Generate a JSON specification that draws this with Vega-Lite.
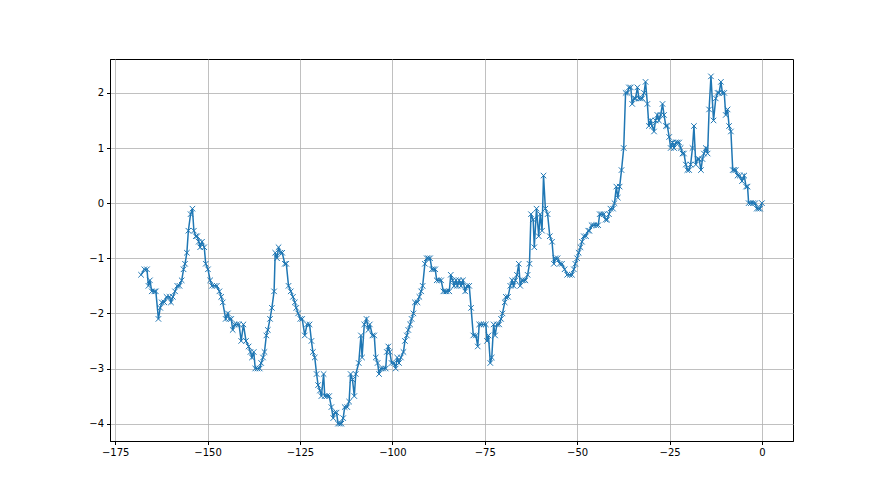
{
  "$schema": "https://vega.github.io/schema/vega-lite/v6.json",
  "width": 683,
  "height": 382,
  "autosize": {"type": "none"},
  "padding": {"left": 110, "top": 59, "right": 87, "bottom": 54},
  "background": "white",
  "config": {
    "view": {"stroke": "black", "strokeWidth": 1},
    "axis": {
      "labelFont": "DejaVu Sans",
      "labelFontSize": 10,
      "labelColor": "black",
      "domainColor": "black",
      "tickColor": "black",
      "tickSize": 3.5,
      "labelPadding": 3,
      "gridColor": "#b0b0b0",
      "gridWidth": 0.8,
      "title": null
    }
  },
  "data": {"values": [
    {"x":-168,"y":-1.3},{"x":-167.1,"y":-1.2},{"x":-166.4,"y":-1.2},{"x":-166,"y":-1.5},{"x":-165.6,"y":-1.4},{"x":-165.1,"y":-1.6},{"x":-164.4,"y":-1.6},{"x":-164,"y":-1.6},{"x":-163.3,"y":-2.1},{"x":-162.8,"y":-1.9},{"x":-162.4,"y":-1.8},{"x":-161.7,"y":-1.8},{"x":-161.1,"y":-1.7},{"x":-160.3,"y":-1.7},{"x":-159.9,"y":-1.8},{"x":-159.4,"y":-1.7},{"x":-158.8,"y":-1.6},{"x":-158.2,"y":-1.5},{"x":-157.6,"y":-1.5},{"x":-157,"y":-1.4},{"x":-156.5,"y":-1.2},{"x":-156.1,"y":-1.1},{"x":-155.6,"y":-0.9},{"x":-155.2,"y":-0.5},{"x":-154.6,"y":-0.2},{"x":-154.1,"y":-0.1},{"x":-153.7,"y":-0.5},{"x":-153.2,"y":-0.6},{"x":-152.8,"y":-0.6},{"x":-152.4,"y":-0.7},{"x":-152,"y":-0.8},{"x":-151.5,"y":-0.7},{"x":-150.9,"y":-0.8},{"x":-150.5,"y":-1.1},{"x":-149.9,"y":-1.2},{"x":-149.3,"y":-1.4},{"x":-148.8,"y":-1.5},{"x":-148.1,"y":-1.5},{"x":-147.5,"y":-1.5},{"x":-146.8,"y":-1.6},{"x":-146.3,"y":-1.7},{"x":-145.9,"y":-1.8},{"x":-145.1,"y":-2.1},{"x":-144.5,"y":-2.0},{"x":-144.1,"y":-2.1},{"x":-143.6,"y":-2.1},{"x":-143.2,"y":-2.3},{"x":-142.7,"y":-2.2},{"x":-142.1,"y":-2.2},{"x":-141.5,"y":-2.2},{"x":-140.9,"y":-2.5},{"x":-140.3,"y":-2.2},{"x":-139.6,"y":-2.5},{"x":-138.9,"y":-2.6},{"x":-138.4,"y":-2.7},{"x":-138,"y":-2.8},{"x":-137.5,"y":-2.7},{"x":-137.1,"y":-3.0},{"x":-136.5,"y":-3.0},{"x":-135.9,"y":-3.0},{"x":-135.5,"y":-2.9},{"x":-135,"y":-2.8},{"x":-134.6,"y":-2.7},{"x":-134.1,"y":-2.4},{"x":-133.7,"y":-2.3},{"x":-133.1,"y":-2.1},{"x":-132.6,"y":-1.9},{"x":-132,"y":-1.6},{"x":-131.7,"y":-0.9},{"x":-131.2,"y":-1.0},{"x":-130.8,"y":-0.8},{"x":-130.3,"y":-0.9},{"x":-129.8,"y":-0.9},{"x":-129.1,"y":-1.1},{"x":-128.7,"y":-1.1},{"x":-128.1,"y":-1.5},{"x":-127.5,"y":-1.6},{"x":-126.9,"y":-1.7},{"x":-126.4,"y":-1.8},{"x":-126,"y":-1.9},{"x":-125.5,"y":-2.0},{"x":-124.9,"y":-2.1},{"x":-124.4,"y":-2.1},{"x":-123.7,"y":-2.4},{"x":-123.1,"y":-2.2},{"x":-122.4,"y":-2.2},{"x":-121.9,"y":-2.5},{"x":-121.5,"y":-2.7},{"x":-121,"y":-2.8},{"x":-120.5,"y":-3.1},{"x":-120.1,"y":-3.3},{"x":-119.6,"y":-3.4},{"x":-119.2,"y":-3.5},{"x":-118.6,"y":-3.1},{"x":-118.3,"y":-3.5},{"x":-117.7,"y":-3.5},{"x":-117.1,"y":-3.5},{"x":-116.5,"y":-3.7},{"x":-116,"y":-3.9},{"x":-115.6,"y":-3.8},{"x":-115.1,"y":-3.8},{"x":-114.7,"y":-4.0},{"x":-114.2,"y":-4.0},{"x":-113.8,"y":-4.0},{"x":-113.3,"y":-3.9},{"x":-112.9,"y":-3.7},{"x":-112.2,"y":-3.7},{"x":-111.7,"y":-3.6},{"x":-111.3,"y":-3.1},{"x":-110.8,"y":-3.2},{"x":-110.3,"y":-3.5},{"x":-109.9,"y":-3.1},{"x":-109.1,"y":-2.9},{"x":-108.5,"y":-2.4},{"x":-108.2,"y":-2.8},{"x":-107.6,"y":-2.2},{"x":-107,"y":-2.1},{"x":-106.5,"y":-2.3},{"x":-106.1,"y":-2.2},{"x":-105.4,"y":-2.4},{"x":-104.9,"y":-2.4},{"x":-104.5,"y":-2.8},{"x":-104,"y":-2.9},{"x":-103.6,"y":-3.1},{"x":-103.1,"y":-3.0},{"x":-102.5,"y":-3.0},{"x":-101.8,"y":-3.0},{"x":-101.5,"y":-2.7},{"x":-101.1,"y":-2.6},{"x":-100.7,"y":-2.7},{"x":-100.2,"y":-2.9},{"x":-99.6,"y":-2.9},{"x":-99.1,"y":-3.0},{"x":-98.7,"y":-2.8},{"x":-98.2,"y":-2.9},{"x":-97.7,"y":-2.8},{"x":-97,"y":-2.7},{"x":-96.6,"y":-2.5},{"x":-96.1,"y":-2.4},{"x":-95.7,"y":-2.3},{"x":-95.2,"y":-2.2},{"x":-94.8,"y":-2.1},{"x":-94.3,"y":-2.0},{"x":-93.9,"y":-1.8},{"x":-93.2,"y":-1.8},{"x":-92.7,"y":-1.7},{"x":-92.2,"y":-1.6},{"x":-91.8,"y":-1.5},{"x":-91.2,"y":-1.1},{"x":-90.7,"y":-1.0},{"x":-90.3,"y":-1.0},{"x":-89.8,"y":-1.0},{"x":-89.3,"y":-1.2},{"x":-88.9,"y":-1.2},{"x":-88.4,"y":-1.2},{"x":-88,"y":-1.4},{"x":-87.4,"y":-1.4},{"x":-86.8,"y":-1.4},{"x":-86.2,"y":-1.6},{"x":-85.7,"y":-1.6},{"x":-85.3,"y":-1.6},{"x":-84.6,"y":-1.6},{"x":-84.2,"y":-1.3},{"x":-83.7,"y":-1.4},{"x":-83.3,"y":-1.5},{"x":-82.8,"y":-1.4},{"x":-82.4,"y":-1.5},{"x":-81.9,"y":-1.4},{"x":-81.4,"y":-1.5},{"x":-80.9,"y":-1.4},{"x":-80.3,"y":-1.6},{"x":-79.8,"y":-1.5},{"x":-79.2,"y":-1.5},{"x":-78.7,"y":-1.9},{"x":-78.1,"y":-2.4},{"x":-77.4,"y":-2.4},{"x":-76.9,"y":-2.6},{"x":-76.5,"y":-2.2},{"x":-76,"y":-2.2},{"x":-75.3,"y":-2.2},{"x":-74.7,"y":-2.2},{"x":-74.4,"y":-2.5},{"x":-74,"y":-2.4},{"x":-73.5,"y":-2.9},{"x":-73.1,"y":-2.8},{"x":-72.6,"y":-2.2},{"x":-72.2,"y":-2.4},{"x":-71.7,"y":-2.2},{"x":-71.1,"y":-2.2},{"x":-70.6,"y":-2.1},{"x":-70.2,"y":-2.0},{"x":-69.6,"y":-1.8},{"x":-69.3,"y":-1.7},{"x":-68.7,"y":-1.7},{"x":-68.1,"y":-1.5},{"x":-67.6,"y":-1.4},{"x":-67.2,"y":-1.5},{"x":-66.7,"y":-1.4},{"x":-66.3,"y":-1.3},{"x":-65.8,"y":-1.1},{"x":-65.4,"y":-1.5},{"x":-64.9,"y":-1.4},{"x":-64.5,"y":-1.4},{"x":-64,"y":-1.4},{"x":-63.4,"y":-1.3},{"x":-62.9,"y":-1.1},{"x":-62.5,"y":-0.2},{"x":-61.9,"y":-0.3},{"x":-61.6,"y":-0.8},{"x":-61,"y":-0.1},{"x":-60.4,"y":-0.6},{"x":-60,"y":-0.2},{"x":-59.5,"y":-0.5},{"x":-59.1,"y":0.5},{"x":-58.6,"y":-0.1},{"x":-58,"y":-0.2},{"x":-57.4,"y":-0.6},{"x":-56.8,"y":-0.7},{"x":-56.3,"y":-1.1},{"x":-55.9,"y":-1.0},{"x":-55.3,"y":-1.0},{"x":-54.7,"y":-1.1},{"x":-54.1,"y":-1.1},{"x":-53.4,"y":-1.2},{"x":-52.7,"y":-1.3},{"x":-52,"y":-1.3},{"x":-51.4,"y":-1.3},{"x":-50.9,"y":-1.2},{"x":-50.5,"y":-1.1},{"x":-50,"y":-1.0},{"x":-49.6,"y":-0.9},{"x":-49.1,"y":-0.8},{"x":-48.7,"y":-0.7},{"x":-48.2,"y":-0.6},{"x":-47.6,"y":-0.6},{"x":-47,"y":-0.5},{"x":-46.7,"y":-0.5},{"x":-46.1,"y":-0.4},{"x":-45.5,"y":-0.4},{"x":-44.8,"y":-0.4},{"x":-44.3,"y":-0.4},{"x":-43.9,"y":-0.2},{"x":-43.4,"y":-0.2},{"x":-42.8,"y":-0.2},{"x":-42.3,"y":-0.3},{"x":-41.9,"y":-0.3},{"x":-41.4,"y":-0.2},{"x":-41,"y":-0.1},{"x":-40.3,"y":-0.1},{"x":-39.9,"y":0.0},{"x":-39.4,"y":0.3},{"x":-39,"y":0.1},{"x":-38.5,"y":0.3},{"x":-38,"y":0.6},{"x":-37.4,"y":1.0},{"x":-36.9,"y":2.0},{"x":-36.4,"y":2.0},{"x":-36,"y":2.1},{"x":-35.5,"y":2.1},{"x":-35.1,"y":1.8},{"x":-34.6,"y":1.9},{"x":-34.2,"y":1.9},{"x":-33.7,"y":2.1},{"x":-33.3,"y":1.9},{"x":-32.8,"y":1.9},{"x":-32.4,"y":1.9},{"x":-31.9,"y":2.0},{"x":-31.5,"y":2.2},{"x":-31,"y":1.8},{"x":-30.6,"y":1.4},{"x":-30.1,"y":1.5},{"x":-29.7,"y":1.4},{"x":-29.2,"y":1.3},{"x":-28.8,"y":1.5},{"x":-28.3,"y":1.6},{"x":-27.9,"y":1.5},{"x":-27.4,"y":1.6},{"x":-26.9,"y":1.8},{"x":-26.5,"y":1.6},{"x":-26,"y":1.4},{"x":-25.6,"y":1.4},{"x":-25.1,"y":1.2},{"x":-24.7,"y":1.0},{"x":-24.2,"y":1.1},{"x":-23.8,"y":1.0},{"x":-23.3,"y":1.1},{"x":-22.9,"y":1.1},{"x":-22.4,"y":1.1},{"x":-22,"y":1.0},{"x":-21.5,"y":0.9},{"x":-21.1,"y":0.9},{"x":-20.6,"y":0.7},{"x":-20.2,"y":0.6},{"x":-19.7,"y":0.6},{"x":-19.3,"y":0.7},{"x":-18.8,"y":1.0},{"x":-18.4,"y":1.4},{"x":-17.9,"y":0.7},{"x":-17.4,"y":0.8},{"x":-17,"y":0.8},{"x":-16.5,"y":0.6},{"x":-16.1,"y":0.8},{"x":-15.7,"y":0.9},{"x":-15.2,"y":1.0},{"x":-14.7,"y":0.9},{"x":-14.3,"y":1.7},{"x":-13.8,"y":2.3},{"x":-13.1,"y":1.5},{"x":-12.5,"y":1.9},{"x":-12,"y":2.0},{"x":-11.6,"y":2.0},{"x":-11.1,"y":2.2},{"x":-10.7,"y":2.0},{"x":-10.2,"y":2.0},{"x":-9.8,"y":1.6},{"x":-9.3,"y":1.7},{"x":-8.9,"y":1.4},{"x":-8.4,"y":1.3},{"x":-7.9,"y":0.6},{"x":-7.5,"y":0.6},{"x":-7.1,"y":0.6},{"x":-6.6,"y":0.5},{"x":-6,"y":0.5},{"x":-5.4,"y":0.4},{"x":-4.8,"y":0.5},{"x":-4.3,"y":0.3},{"x":-3.9,"y":0.3},{"x":-3.6,"y":0.0},{"x":-3,"y":0.0},{"x":-2.4,"y":0.0},{"x":-1.8,"y":0.0},{"x":-1.4,"y":-0.1},{"x":-0.9,"y":-0.1},{"x":-0.5,"y":-0.1},{"x":0,"y":0.0}
  ]},
  "encoding": {
    "x": {"field": "x", "type": "quantitative",
      "scale": {"domain": [-176.4, 8.4], "nice": false, "zero": false},
      "axis": {"values": [-175, -150, -125, -100, -75, -50, -25, 0], "format": "d"}},
    "y": {"field": "y", "type": "quantitative",
      "scale": {"domain": [-4.315, 2.615], "nice": false, "zero": false},
      "axis": {"values": [-4, -3, -2, -1, 0, 1, 2], "format": "d"}}
  },
  "layer": [
    {"mark": {"type": "line", "color": "#1f77b4", "strokeWidth": 1.5}},
    {"mark": {"type": "point", "shape": "M-1,-1L1,1M-1,1L1,-1", "filled": false, "color": "#1f77b4", "strokeWidth": 1, "size": 30, "opacity": 1}}
  ]
}
